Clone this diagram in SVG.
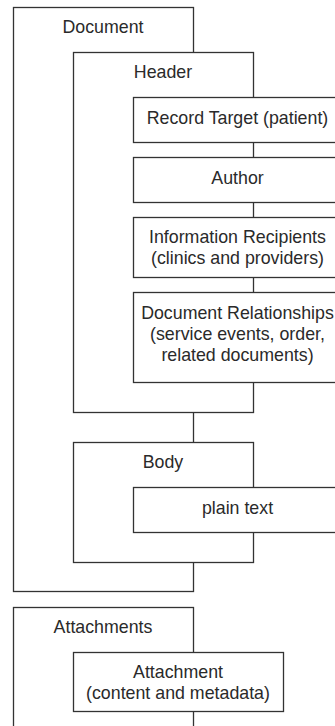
<svg xmlns="http://www.w3.org/2000/svg" width="335" height="726" viewBox="0 0 335 726">
  <style>
    .box { fill: #ffffff; stroke: #333333; stroke-width: 1.3; }
    .lbl { font-family: "Liberation Sans", Arial, sans-serif; font-size: 17.8px; fill: #2a2a2a; text-anchor: middle; }
  </style>
  <rect width="335" height="726" fill="#ffffff"/>

  <!-- Document container -->
  <g id="document">
    <rect class="box" x="13.5" y="7.5" width="180" height="584"/>
    <text class="lbl" x="103" y="33">Document</text>
  </g>

  <!-- Header container and its entries -->
  <g id="header">
    <rect class="box" x="73.5" y="52.5" width="180" height="360"/>
    <text class="lbl" x="163" y="77.5">Header</text>
  </g>
  <g id="record-target">
    <rect class="box" x="133.5" y="97.5" width="210" height="45"/>
    <text class="lbl" x="237.5" y="123.5">Record Target (patient)</text>
  </g>
  <g id="author">
    <rect class="box" x="133.5" y="157.5" width="210" height="45"/>
    <text class="lbl" x="237.5" y="183.5">Author</text>
  </g>
  <g id="information-recipients">
    <rect class="box" x="133.5" y="217.5" width="210" height="60"/>
    <text class="lbl" x="237.5" y="243.3">Information Recipients</text>
    <text class="lbl" x="237.5" y="264">(clinics and providers)</text>
  </g>
  <g id="document-relationships">
    <rect class="box" x="133.5" y="292.5" width="210" height="90"/>
    <text class="lbl" x="237.5" y="318.5">Document Relationships</text>
    <text class="lbl" x="237.5" y="339.5">(service events, order,</text>
    <text class="lbl" x="237.5" y="360.5">related documents)</text>
  </g>

  <!-- Body container -->
  <g id="body">
    <rect class="box" x="73.5" y="442.5" width="180" height="120"/>
    <text class="lbl" x="163" y="468">Body</text>
  </g>
  <g id="plain-text">
    <rect class="box" x="133.5" y="487.5" width="210" height="45"/>
    <text class="lbl" x="237.5" y="513.5">plain text</text>
  </g>

  <!-- Attachments container -->
  <g id="attachments">
    <rect class="box" x="13.5" y="607.5" width="180" height="140"/>
    <text class="lbl" x="103" y="632.5">Attachments</text>
  </g>
  <g id="attachment">
    <rect class="box" x="73.5" y="652.5" width="210" height="59"/>
    <text class="lbl" x="178" y="677.5">Attachment</text>
    <text class="lbl" x="178" y="698.5">(content and metadata)</text>
  </g>
</svg>
